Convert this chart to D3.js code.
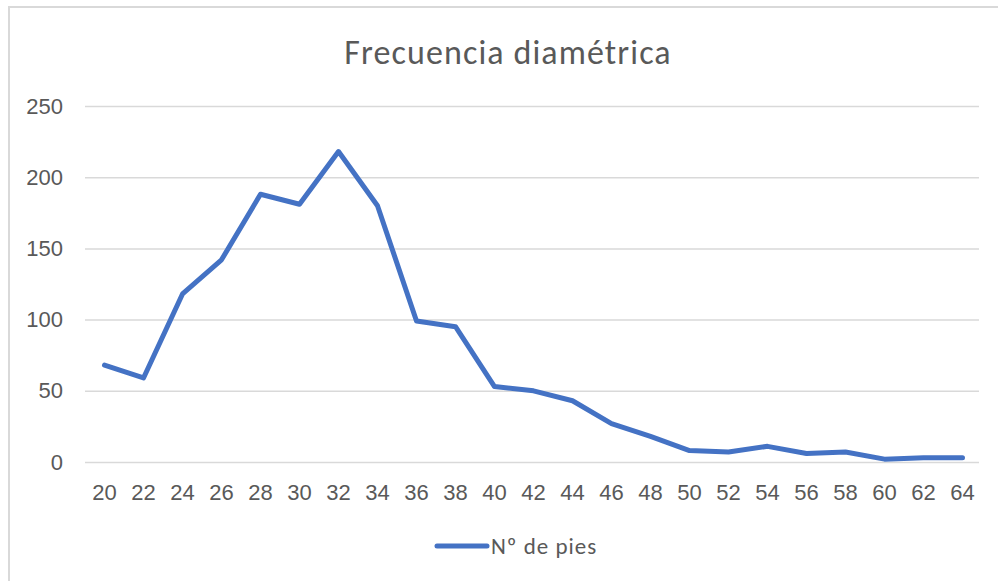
<!DOCTYPE html>
<html>
<head>
<meta charset="utf-8">
<script src="https://cdn.jsdelivr.net/npm/d3@7"></script>
<style>
  body { margin: 0; background: #fff; }
  svg { display: block; font-family: Calibri, Carlito, Lato, sans-serif; }
  .axis text { fill: #595959; font-size: 22px; }
  .axis .domain { display: none; }
</style>
</head>
<body>
<svg width="998" height="581"></svg>
<script>
// diameter classes (cm) and number of trees
const diametros = [20, 22, 24, 26, 28, 30, 32, 34, 36, 38, 40, 42, 44, 46, 48, 50, 52, 54, 56, 58, 60, 62, 64];
const pies = [68, 59, 118, 142, 188, 181, 218, 180, 99, 95, 53, 50, 43, 27, 18, 8, 7, 11, 6, 7, 2, 3, 3];
const yTicks = [0, 50, 100, 150, 200, 250];

const plot = {left: 85, right: 982, top: 106, bottom: 462};

const svg = d3.select('svg');

// chart area border (runs off the right and bottom edge)
svg.append('rect')
    .attr('x', 9).attr('y', 7)
    .attr('width', 1010).attr('height', 600)
    .attr('fill', '#fff')
    .attr('stroke', '#d9d9d9')
    .attr('stroke-width', 2);

svg.append('text')
    .attr('x', 508).attr('y', 64)
    .attr('text-anchor', 'middle')
    .style('font-size', '34px')
    .style('fill', '#595959')
    .style('letter-spacing', '1.1px')
    .text('Frecuencia diamétrica');

const x = d3.scaleBand().domain(diametros).range([plot.left, plot.right]);
const y = d3.scaleLinear().domain([0, 250]).range([plot.bottom, plot.top]);

const yAxis = d3.axisLeft(y).tickValues(yTicks).tickSize(-(979 - plot.left)).tickPadding(22);
const gy = svg.append('g').attr('class', 'axis')
    .attr('transform', 'translate(' + plot.left + ',0)')
    .call(yAxis);
gy.selectAll('.tick line').attr('stroke', '#d9d9d9').attr('stroke-width', 1.5);

const xAxis = d3.axisBottom(x).tickSize(0).tickPadding(22);
svg.append('g').attr('class', 'axis')
    .attr('transform', 'translate(0,' + plot.bottom + ')')
    .call(xAxis);

const line = d3.line()
    .x((d, i) => x(diametros[i]) + x.bandwidth() / 2)
    .y(d => y(d));

svg.append('path')
    .datum(pies)
    .attr('fill', 'none')
    .attr('stroke', '#4472c4')
    .attr('stroke-width', 5)
    .attr('stroke-linejoin', 'round')
    .attr('stroke-linecap', 'round')
    .attr('d', line);

// legend
const legend = svg.append('g').attr('transform', 'translate(437,546)');
legend.append('line')
    .attr('x1', 0).attr('x2', 50)
    .attr('stroke', '#4472c4')
    .attr('stroke-width', 5)
    .attr('stroke-linecap', 'round');
legend.append('text')
    .attr('x', 54).attr('dy', '0.35em')
    .style('font-size', '23px')
    .style('letter-spacing', '1px')
    .style('fill', '#595959')
    .text('Nº de pies');
</script>
</body>
</html>
